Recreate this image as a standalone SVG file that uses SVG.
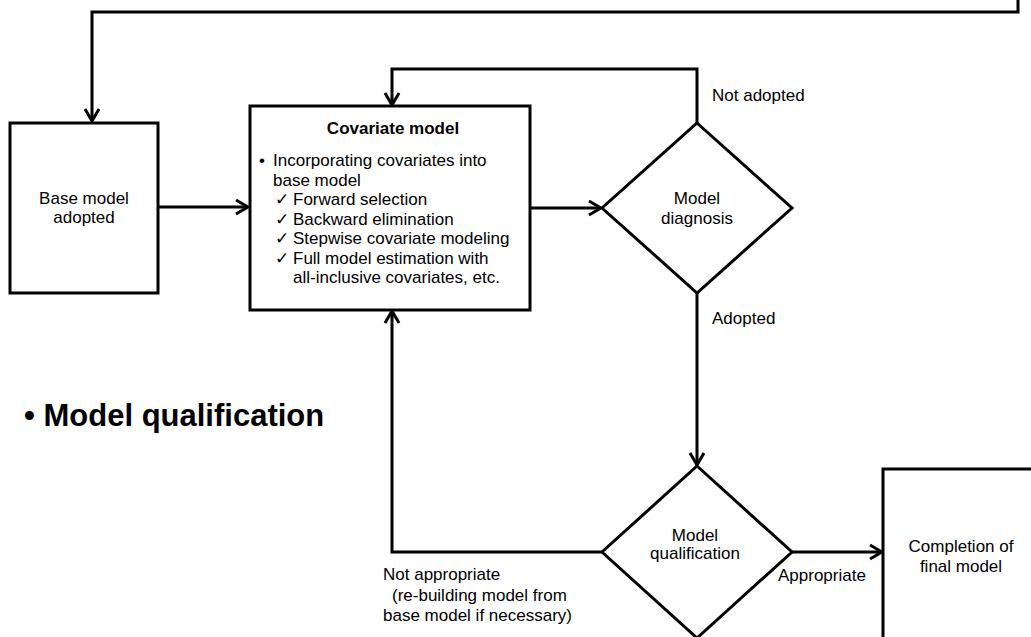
<svg xmlns="http://www.w3.org/2000/svg" width="1031" height="637" viewBox="0 0 1031 637">
<style>
  .box { fill: #fff; stroke: #000; stroke-width: 3; }
  .ln { fill: none; stroke: #000; stroke-width: 3; stroke-linejoin: miter; }
  .arr { marker-end: url(#ah); }
  text { font-family: "Liberation Sans", Arial, "DejaVu Sans", sans-serif; font-size: 17px; fill: #000; }
  .c { text-anchor: middle; }
  .b { font-weight: bold; }
  .big { font-size: 31px; font-weight: bold; }
</style>
<defs>
  <marker id="ah" viewBox="0 0 16 18" refX="14" refY="9" markerWidth="16" markerHeight="18" markerUnits="userSpaceOnUse" orient="auto">
    <path d="M2,2 L14,9 L2,16" fill="none" stroke="#000" stroke-width="3"/>
  </marker>
</defs>
<rect width="1031" height="637" fill="#fff"/>

<g id="connectors">
  <path class="ln arr" d="M1018,0 L1018,12 L92,12 L92,121"/>
  <path class="ln arr" d="M158,207 L248,207"/>
  <path class="ln arr" d="M530,208 L601,208"/>
  <path class="ln arr" d="M697,123 L697,69 L392,69 L392,105"/>
  <path class="ln arr" d="M697,293 L697,465"/>
  <path class="ln arr" d="M602,552 L392,552 L392,311"/>
  <path class="ln arr" d="M792,552 L882,552"/>
</g>

<g id="base-model">
  <rect class="box" x="10" y="123" width="148" height="170"/>
  <text class="c" x="84" y="204">Base model</text>
  <text class="c" x="84" y="223">adopted</text>
</g>

<g id="covariate-model">
  <rect class="box" x="250" y="106" width="280" height="204"/>
  <text class="c b" x="393" y="134">Covariate model</text>
  <text x="259" y="166">•</text>
  <text x="273" y="166">Incorporating covariates into</text>
  <text x="273" y="185.5">base model</text>
  <text x="275" y="205">✓</text><text x="293" y="205">Forward selection</text>
  <text x="275" y="224.5">✓</text><text x="293" y="224.5">Backward elimination</text>
  <text x="275" y="244">✓</text><text x="293" y="244">Stepwise covariate modeling</text>
  <text x="275" y="263.5">✓</text><text x="293" y="263.5">Full model estimation with</text>
  <text x="293" y="283">all-inclusive covariates, etc.</text>
</g>

<g id="model-diagnosis">
  <polygon class="box" points="697,123 792,208 697,293 602,208"/>
  <text class="c" x="697" y="204">Model</text>
  <text class="c" x="697" y="224">diagnosis</text>
</g>

<g id="model-qualification">
  <polygon class="box" points="697,466 792,552 697,638 602,552"/>
  <text class="c" x="695" y="541">Model</text>
  <text class="c" x="695" y="559">qualification</text>
</g>

<g id="completion">
  <rect class="box" x="883" y="469" width="160" height="180"/>
  <text class="c" x="961" y="552">Completion of</text>
  <text class="c" x="961" y="572">final model</text>
</g>

<g id="labels">
  <text x="712" y="101">Not adopted</text>
  <text x="712" y="324">Adopted</text>
  <text x="778" y="581">Appropriate</text>
  <text x="383" y="580">Not appropriate</text>
  <text x="392" y="601">(re-building model from</text>
  <text x="383" y="621">base model if necessary)</text>
  <text class="big" x="24" y="426">• Model qualification</text>
</g>
</svg>
